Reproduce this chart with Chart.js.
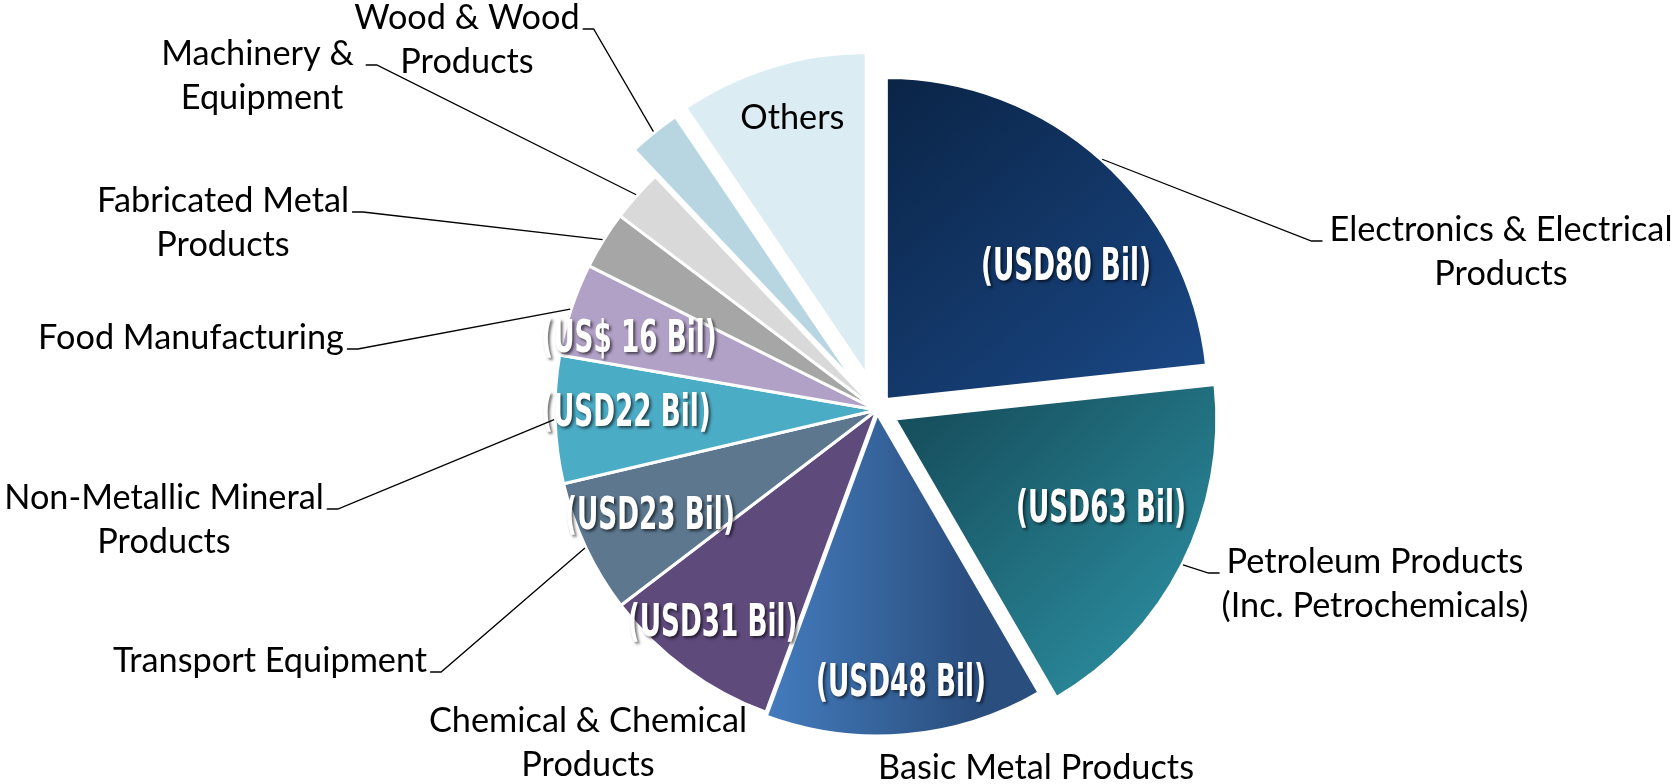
<!DOCTYPE html>
<html>
<head>
<meta charset="utf-8">
<script src="https://cdn.jsdelivr.net/npm/chart.js@4.4.1/dist/chart.umd.min.js"></script>
<style>
html,body{margin:0;padding:0;background:#fff}
#wrap{width:1679px;height:784px;position:relative}
</style>
</head>
<body>
<div id="wrap"><canvas id="pie"></canvas></div>
<script>
// data
const categories=['Electronics & Electrical Products','Petroleum Products (Inc. Petrochemicals)','Basic Metal Products','Chemical & Chemical Products','Transport Equipment','Non-Metallic Mineral Products','Food Manufacturing','Fabricated Metal Products','Machinery & Equipment','Wood & Wood Products','Others'];
const values=[80,63,48,31,23,22,16,10,9,9,32.5];
const valueText=['(USD80 Bil)','(USD63 Bil)','(USD48 Bil)','(USD31 Bil)','(USD23 Bil)','(USD22 Bil)','(US$ 16 Bil)','','','',''];
const labelLines=[['Electronics & Electrical','Products'],['Petroleum Products','(Inc. Petrochemicals)'],['Basic Metal Products'],['Chemical & Chemical','Products'],['Transport Equipment'],['Non-Metallic Mineral','Products'],['Food Manufacturing'],['Fabricated Metal','Products'],['Machinery & ','Equipment'],['Wood & Wood','Products'],['Others']];

// look
const RADIUS=322;
const fills=[['#0a2446','#1b4988',[0,-1,0.9,0.1]],['#17505e','#2a8a9c',[0.05,0.05,0.75,0.8]],['#4a87cd','#2a4e7e',[-0.5,0.5,0.3,0.5]],['#5f4a7c'],['#5c778e'],['#4bacc6'],['#b2a1c7'],['#a6a6a6'],['#d9d9d9'],['#b8d6e2'],['#dbedf3']];
const explode=[14,20,4,0,0,0,0,0,0,34,37];
// outer label: [centre x, first line centre y, leader side]
const labelAt=[[1501,230,'r'],[1375,562,'r'],[1036,768,''],[588,721,''],[270,661,'l'],[164,498,'l'],[191,338,'l'],[223,201,'l'],[262,54,'l'],[467,18,'l'],null];
// inner label: [angle nudge deg, radius fraction]
const innerAt=[[12,0.69],[-3,0.70],[0,0.845],[1,0.84],[0,0.78],[0.6,0.78],[-2.5,0.80],null,null,null,[1,0.83]];

const baseArcDraw=Chart.ArcElement.prototype.draw;
Chart.ArcElement.prototype.draw=function(ctx){
  const i=this.$context?this.$context.dataIndex:0,d=explode[i]||0,m=(this.startAngle+this.endAngle)/2;
  ctx.save();ctx.translate(Math.cos(m)*d,Math.sin(m)*d);baseArcDraw.call(this,ctx);ctx.restore();
};

function fillFor(c){
  const f=fills[c.dataIndex],a=c.chart.chartArea;
  if(f.length===1||!a)return f[0];
  const cx=(a.left+a.right)/2,cy=(a.top+a.bottom)/2,p=f[2];
  const g=c.chart.ctx.createLinearGradient(cx+p[0]*RADIUS,cy+p[1]*RADIUS,cx+p[2]*RADIUS,cy+p[3]*RADIUS);
  g.addColorStop(0,f[0]);g.addColorStop(1,f[1]);return g;
}

const GILL='"Gill Sans","Gill Sans MT",Lato,sans-serif';
const VFONT='bold 44px "DejaVu Sans Condensed","DejaVu Sans",sans-serif';
const TFONT='35px '+GILL;
const labelPlugin={id:'pieLabels',afterDatasetsDraw(chart){
  const ctx=chart.ctx,arcs=chart.getDatasetMeta(0).data;
  // squeeze both fonts to the widths seen in the reference
  ctx.font=VFONT;
  const vs=170/ctx.measureText('(USD80 Bil)').width;
  ctx.font=TFONT;
  const ts=343/ctx.measureText('Electronics & Electrical').width;
  arcs.forEach((arc,i)=>{
    const m=(arc.startAngle+arc.endAngle)/2,d=explode[i]||0;
    const ox=arc.x+Math.cos(m)*d,oy=arc.y+Math.sin(m)*d;
    const ip=innerAt[i];
    if(ip){
      const a=m+ip[0]*Math.PI/180,r=arc.outerRadius*ip[1];
      const x=ox+Math.cos(a)*r,y=oy+Math.sin(a)*r;
      ctx.save();ctx.translate(x,y);
      ctx.textAlign='center';ctx.textBaseline='middle';
      if(valueText[i]){
        ctx.scale(vs,1);ctx.font=VFONT;
        ctx.shadowColor='rgba(0,0,0,0.6)';ctx.shadowOffsetX=2;ctx.shadowOffsetY=2;ctx.shadowBlur=3;
        ctx.fillStyle='#fff';ctx.fillText(valueText[i],0,0);
      }else{
        ctx.scale(ts,1);ctx.font=TFONT;ctx.fillStyle='#000';
        ctx.fillText(labelLines[i][0],0,0);
      }
      ctx.restore();
    }
    const la=labelAt[i];
    if(!la)return;
    ctx.save();
    ctx.font=TFONT;ctx.fillStyle='#000';ctx.textAlign='center';ctx.textBaseline='middle';
    labelLines[i].forEach((t,k)=>{
      ctx.save();ctx.translate(la[0],la[1]+k*44);ctx.scale(ts,1);ctx.fillText(t,0,0);ctx.restore();
    });
    if(la[2]){
      const w=ctx.measureText(labelLines[i][0]).width*ts,ly=la[1]+11;
      const px=ox+Math.cos(m)*(arc.outerRadius+1),py=oy+Math.sin(m)*(arc.outerRadius+1);
      let x1,x2;
      if(la[2]==='r'){x1=la[0]-w/2-7;x2=x1-11;}else{x1=la[0]+w/2+3;x2=x1+11;}
      ctx.strokeStyle='#000';ctx.lineWidth=1.3;
      ctx.beginPath();ctx.moveTo(x1,ly);ctx.lineTo(x2,ly);ctx.lineTo(px,py);ctx.stroke();
    }
    ctx.restore();
  });
}};

new Chart(document.getElementById('pie'),{
  type:'pie',
  data:{labels:categories,datasets:[{data:values,backgroundColor:fillFor,borderColor:'#fff',borderWidth:3,offset:0}]},
  options:{
    responsive:true,maintainAspectRatio:false,animation:false,
    radius:RADIUS,
    layout:{padding:{left:75,top:36,right:0,bottom:0}},
    plugins:{legend:{display:false},tooltip:{enabled:false}}
  },
  plugins:[labelPlugin]
});
</script>
</body>
</html>
